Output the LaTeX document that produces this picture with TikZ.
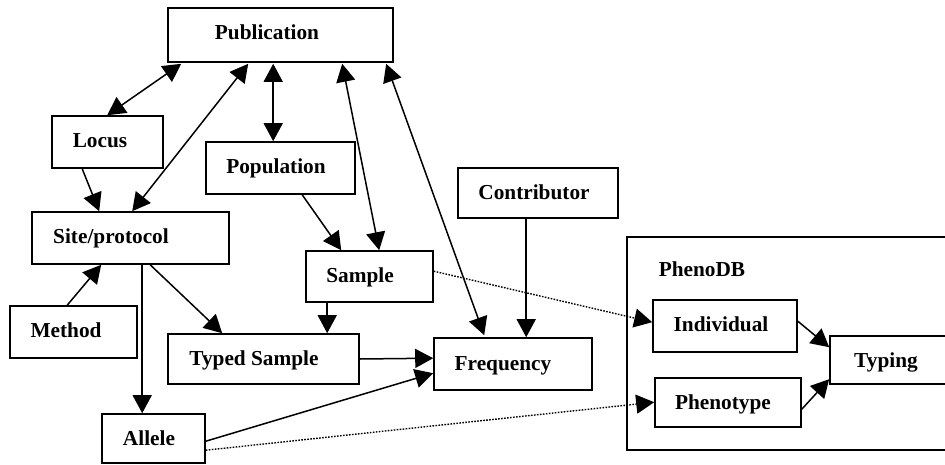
\documentclass[tikz,border=0pt]{standalone}
\usepackage{fontspec}
\setmainfont{Liberation Serif}
\usetikzlibrary{arrows.meta,calc}
\begin{document}
\begin{tikzpicture}[x=1pt,y=-1pt,
  box/.style={draw,line width=1.6pt,inner sep=0pt,fill=white},
  lbl/.style={anchor=base,inner sep=0pt,font=\fontsize{21.3}{25}\selectfont\bfseries},
  tip/.tip={Triangle[length=18pt,width=19pt]},
  conn/.style={line width=1.5pt,-tip},
  bconn/.style={line width=1.5pt,tip-tip},
  dconn/.style={line width=1.4pt,dash pattern=on 1.6pt off 1.4pt,-tip}]
\useasboundingbox (0,0) rectangle (945,464);
\begin{scope}
\clip (0,0) rectangle (945,464);
% container
\node[box,minimum width=333pt,minimum height=213pt] (phenodb) at (793.5,343.5) {};
\node[lbl] (phenodb-t) at (702,276) {PhenoDB};
% boxes
\node[box,minimum width=225pt,minimum height=54pt] (pub) at (280.5,35) {};
\node[box,minimum width=111pt,minimum height=52pt] (locus) at (107.5,142) {};
\node[box,minimum width=149pt,minimum height=52pt] (pop) at (280.5,168) {};
\node[box,minimum width=197pt,minimum height=52pt] (site) at (130.5,238) {};
\node[box,minimum width=127pt,minimum height=51pt] (sample) at (369.5,276.5) {};
\node[box,minimum width=127pt,minimum height=52pt] (method) at (73.5,332) {};
\node[box,minimum width=191pt,minimum height=50pt] (typed) at (263.5,359) {};
\node[box,minimum width=103pt,minimum height=49pt] (allele) at (153.5,438.5) {};
\node[box,minimum width=158pt,minimum height=52pt] (freq) at (513,364) {};
\node[box,minimum width=160pt,minimum height=50pt] (contrib) at (538,193) {};
\node[box,minimum width=144pt,minimum height=52pt] (indiv) at (725,326) {};
\node[box,minimum width=146pt,minimum height=49pt] (phenotype) at (728,402.5) {};
\node[box,minimum width=140pt,minimum height=48pt] (typing) at (900,360) {};
% labels
\node[lbl] (pub-t) at (267,39) {Publication};
\node[lbl] (locus-t) at (100,147) {Locus};
\node[lbl] (pop-t) at (276,173) {Population};
\node[lbl] (site-t) at (111,243) {Site/protocol};
\node[lbl] (sample-t) at (360,282) {Sample};
\node[lbl] (method-t) at (66,337) {Method};
\node[lbl] (typed-t) at (254,365) {Typed Sample};
\node[lbl] (allele-t) at (149,445) {Allele};
\node[lbl] (freq-t) at (503,370) {Frequency};
\node[lbl] (contrib-t) at (534,199) {Contributor};
\node[lbl] (indiv-t) at (721,331) {Individual};
\node[lbl] (phenotype-t) at (723,409) {Phenotype};
\node[lbl] (typing-t) at (886,367) {Typing};
% connectors
\draw[bconn] ($(pub.south west)+(14,1)$) -- ($(locus.north west)+(56,0)$);
\draw[bconn] ($(pub.south west)+(81,1)$) -- ($(site.north west)+(101,0)$);
\draw[bconn] ($(pub.south west)+(106,1)$) -- ($(pop.north west)+(68,0)$);
\draw[bconn] ($(pub.south west)+(175,1)$) -- ($(sample.north west)+(74,0)$);
\draw[bconn] ($(pub.south west)+(219,1)$) -- ($(freq.north west)+(51,-2)$);
\draw[conn] ($(locus.south west)+(31,0)$) -- ($(site.north west)+(68,0)$);
\draw[conn] ($(pop.south west)+(97,0)$) -- ($(sample.north west)+(36,0)$);
\draw[conn] ($(method.north west)+(58,0)$) -- ($(site.south west)+(70,0)$);
\draw[conn] ($(site.south west)+(111,0)$) -- ($(allele.north west)+(41,0)$);
\draw[conn] ($(site.south west)+(119,0)$) -- ($(typed.north west)+(55,0)$);
\draw[conn] ($(sample.south west)+(22,0)$) -- ($(typed.north west)+(160,0)$);
\draw[conn] (typed.east) -- ($(freq.north west)+(0,21)$);
\draw[conn] ($(allele.north east)+(0,28)$) -- ($(freq.north west)+(0,36)$);
\draw[conn] ($(contrib.south west)+(69,0)$) -- ($(freq.north west)+(93,0)$);
\draw[dconn] ($(sample.north east)+(0,21)$) -- ($(indiv.north west)+(0,23)$);
\draw[dconn] ($(allele.north east)+(0,37)$) -- ($(phenotype.north west)+(0,25)$);
\draw[conn] ($(indiv.north east)+(0,22)$) -- ($(typing.north west)+(0,12)$);
\draw[conn] ($(phenotype.north east)+(0,32)$) -- ($(typing.north west)+(0,44)$);
\end{scope}
\end{tikzpicture}
\end{document}
